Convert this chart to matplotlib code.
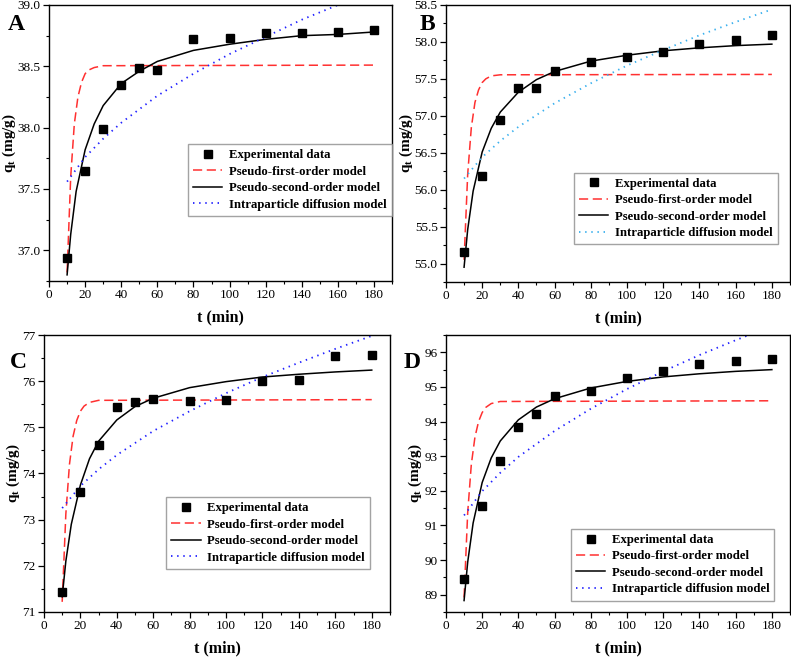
import matplotlib
matplotlib.use("Agg")
import matplotlib.pyplot as plt
from matplotlib.ticker import MultipleLocator

plt.rcParams["font.family"] = ["Liberation Serif", "DejaVu Serif"]
plt.rcParams["mathtext.fontset"] = "custom"
plt.rcParams["mathtext.rm"] = "Liberation Serif"
plt.rcParams["mathtext.bf"] = "Liberation Serif:bold"

# experimental points
t_exp = [10, 20, 30, 40, 50, 60, 80, 100, 120, 140, 160, 180]
qA = [36.94, 37.65, 37.99, 38.35, 38.49, 38.47, 38.72, 38.73, 38.77, 38.77, 38.78, 38.80]
qB = [55.16, 56.18, 56.94, 57.37, 57.37, 57.60, 57.73, 57.79, 57.87, 57.97, 58.02, 58.09]
qC = [71.43, 73.59, 74.61, 75.44, 75.54, 75.61, 75.57, 75.60, 76.00, 76.02, 76.55, 76.57]
qD = [89.44, 91.55, 92.85, 93.84, 94.21, 94.74, 94.88, 95.27, 95.45, 95.65, 95.75, 95.80]

# model curves
t_pfo = [10, 12, 14, 16, 18, 20, 22, 25, 30, 180]
pfoA = [36.82, 37.60, 38.03, 38.25, 38.37, 38.44, 38.47, 38.49, 38.505, 38.51]
pfoB = [55.05, 56.21, 56.84, 57.18, 57.35, 57.45, 57.50, 57.54, 57.555, 57.56]
pfoC = [71.22, 73.12, 74.20, 74.81, 75.15, 75.35, 75.46, 75.54, 75.585, 75.60]
pfoD = [88.92, 91.37, 92.76, 93.55, 94.00, 94.26, 94.41, 94.52, 94.58, 94.60]

t_pso = [10, 12, 15, 20, 25, 30, 40, 50, 60, 80, 100, 120, 140, 160, 180]
psoA = [36.80, 37.13, 37.48, 37.82, 38.03, 38.18, 38.36, 38.46, 38.54, 38.63, 38.68, 38.72, 38.75, 38.76, 38.78]
psoB = [54.95, 55.46, 55.98, 56.51, 56.83, 57.05, 57.32, 57.49, 57.60, 57.74, 57.82, 57.88, 57.92, 57.95, 57.97]
psoC = [71.33, 72.10, 72.90, 73.75, 74.32, 74.70, 75.16, 75.45, 75.63, 75.86, 75.99, 76.09, 76.15, 76.20, 76.24]
psoD = [88.83, 89.94, 91.07, 92.24, 92.95, 93.44, 94.05, 94.42, 94.66, 94.97, 95.16, 95.29, 95.38, 95.45, 95.50]

t_ipd = [10, 20, 30, 40, 60, 80, 100, 120, 140, 160, 180]
ipdA = [37.56, 37.76, 37.91, 38.04, 38.26, 38.44, 38.60, 38.74, 38.88, 39.00, 39.12]
ipdB = [56.15, 56.44, 56.66, 56.85, 57.17, 57.44, 57.68, 57.89, 58.09, 58.27, 58.44]
ipdC = [73.25, 73.73, 74.09, 74.40, 74.92, 75.35, 75.74, 76.09, 76.40, 76.70, 76.98]
ipdD = [91.29, 91.99, 92.52, 92.98, 93.73, 94.37, 94.94, 95.45, 95.92, 96.35, 96.76]

letters = ["A", "B", "C", "D"]
exp_data = [qA, qB, qC, qD]
pfo_data = [pfoA, pfoB, pfoC, pfoD]
pso_data = [psoA, psoB, psoC, psoD]
ipd_data = [ipdA, ipdB, ipdC, ipdD]
ylims = [(36.75, 39.0), (54.75, 58.5), (71, 77), (88.5, 96.5)]
ymajor = [0.5, 0.5, 1, 1]
ipd_colours = ["#2020ff", "#3ab0ee", "#2020ff", "#2020ff"]

# axes boxes [left, bottom, width, height] in figure fraction
boxes = [
    [0.062, 0.5723, 0.4336, 0.4201],
    [0.5638, 0.5708, 0.4349, 0.4216],
    [0.0556, 0.0685, 0.4374, 0.4216],
    [0.5638, 0.0685, 0.4349, 0.4216],
]
legend_pos = [(0.405, 0.496), (0.372, 0.394), (0.353, 0.415), (0.363, 0.300)]
letter_pos = [(0.020, 0.962), (0.540, 0.962), (0.023, 0.449), (0.521, 0.449)]

fig = plt.figure(figsize=(7.91, 6.57), dpi=100)

for i in range(4):
    ax = fig.add_axes(boxes[i])
    ax.plot(t_exp, exp_data[i], "s", color="black", markersize=5.5, label="Experimental data", zorder=4)
    ax.plot(t_pfo, pfo_data[i], color="#ff3030", lw=1.1, dashes=(6, 3), label="Pseudo-first-order model")
    ax.plot(t_pso, pso_data[i], color="black", lw=1.1, label="Pseudo-second-order model")
    ax.plot(t_ipd, ipd_data[i], color=ipd_colours[i], lw=1.3, dashes=(0.8, 2.6), label="Intraparticle diffusion model")

    ax.set_xlim(0, 190)
    ax.set_ylim(*ylims[i])
    ax.xaxis.set_major_locator(MultipleLocator(20))
    ax.xaxis.set_minor_locator(MultipleLocator(10))
    ax.yaxis.set_major_locator(MultipleLocator(ymajor[i]))
    ax.yaxis.set_minor_locator(MultipleLocator(ymajor[i] / 2))
    ax.tick_params(which="both", direction="out", top=False, right=False, labelsize=9.5, pad=2)
    ax.tick_params(which="major", length=4, width=0.9)
    ax.tick_params(which="minor", length=2.5, width=0.8)
    for s in ax.spines.values():
        s.set_linewidth(1.0)

    ax.set_xlabel("t (min)", fontsize=11.5, fontweight="bold", labelpad=6)
    ax.set_ylabel(r"$\mathbf{q_t}$ (mg/g)", fontsize=11, fontweight="bold", labelpad=0)

    leg = ax.legend(loc="upper left", bbox_to_anchor=legend_pos[i], frameon=True, fancybox=False,
                    edgecolor="#8c8c8c", prop={"weight": "bold", "size": 9.2},
                    handlelength=2.3, handletextpad=0.5, labelspacing=0.35, borderpad=0.4,
                    borderaxespad=0)
    leg.get_frame().set_linewidth(1.0)

    fig.text(letter_pos[i][0], letter_pos[i][1], letters[i], fontsize=17, fontweight="bold",
             ha="center", va="center")

fig.savefig("out.png", dpi=100)
